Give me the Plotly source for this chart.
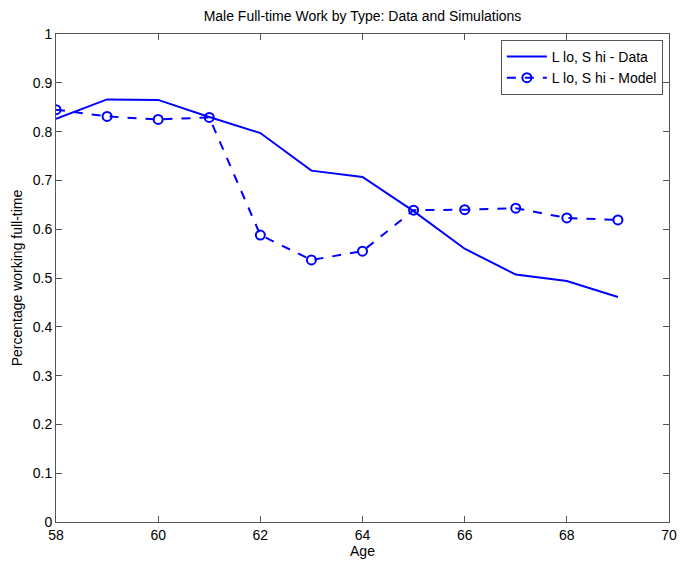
import plotly.graph_objects as go

ages = [58, 59, 60, 61, 62, 63, 64, 65, 66, 67, 68, 69]
data_vals = [0.826, 0.866, 0.865, 0.830, 0.797, 0.720, 0.707, 0.637, 0.560, 0.507, 0.494, 0.461]
model_vals = [0.845, 0.831, 0.825, 0.829, 0.588, 0.537, 0.555, 0.639, 0.640, 0.643, 0.623, 0.619]
x_ticks = [58, 60, 62, 64, 66, 68, 70]
y_ticks = [0, 0.1, 0.2, 0.3, 0.4, 0.5, 0.6, 0.7, 0.8, 0.9, 1]
y_labels = ["0", "0.1", "0.2", "0.3", "0.4", "0.5", "0.6", "0.7", "0.8", "0.9", "1"]

BLUE = "#0000ff"
FONT = "Liberation Sans, Arial, sans-serif"

fig = go.Figure()
fig.add_trace(go.Scatter(x=ages, y=data_vals, mode="lines", name="L lo, S hi - Data",
                         line=dict(color=BLUE, width=2)))
fig.add_trace(go.Scatter(x=ages, y=model_vals, mode="lines+markers", name="L lo, S hi - Model",
                         line=dict(color=BLUE, width=2, dash="dash"),
                         marker=dict(symbol="circle-open", size=9, color=BLUE, line=dict(width=2, color=BLUE))))

axis_common = dict(showline=True, linecolor="#555555", linewidth=1, mirror="ticks",
                   ticks="inside", ticklen=6, tickcolor="#555555", showgrid=False, zeroline=False,
                   tickfont=dict(family=FONT, size=14, color="#000000"))

fig.update_layout(
    width=686, height=565,
    paper_bgcolor="white", plot_bgcolor="white",
    margin=dict(l=56, r=9, t=34, b=43),
    title=dict(text="Male Full-time Work by Type: Data and Simulations", x=0.5, xref="paper",
               y=1 - 16/565, yanchor="middle",
               font=dict(family=FONT, size=14, color="#000000")),
    xaxis=dict(range=[58, 70], tickvals=x_ticks, ticktext=[str(t) for t in x_ticks],
               ticklabeloverflow="allow",
               title=dict(text="Age", font=dict(family=FONT, size=14, color="#000000"), standoff=2),
               **axis_common),
    yaxis=dict(range=[0, 1], tickvals=y_ticks, ticktext=y_labels,
               title=dict(text="Percentage working full-time", font=dict(family=FONT, size=14, color="#000000"), standoff=6),
               **axis_common),
    legend=dict(x=0.990, y=0.988, xanchor="right", yanchor="top",
                bgcolor="white", bordercolor="#555555", borderwidth=1,
                font=dict(family=FONT, size=14, color="#000000"),
                tracegroupgap=0, itemwidth=40),
    showlegend=True,
)

fig.write_html("out.html")
